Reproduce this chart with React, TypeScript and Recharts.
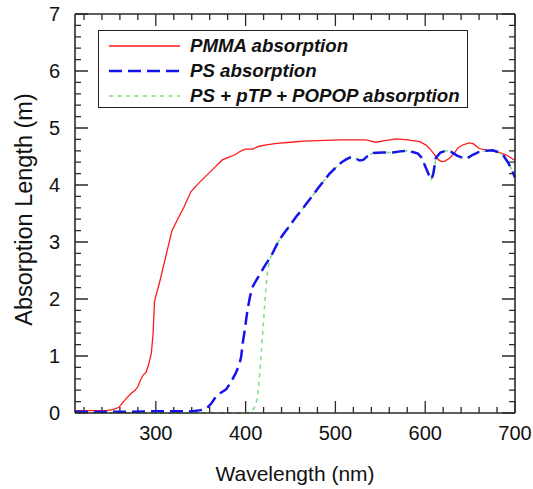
import { LineChart, Line, XAxis, YAxis } from "recharts";

// PMMA absorption length (m) vs wavelength (nm)
const pmmaWavelength = [
  210, 230, 245, 252, 259, 264, 268, 273, 277, 280, 283, 286, 289, 292, 295, 297, 298.5, 300, 304, 311,
  318, 325, 331, 339, 347, 356, 365, 374, 380, 388, 395, 400, 408, 415, 425, 435, 450, 465, 480, 505,
  534, 540, 545, 555, 568, 580, 594, 601, 606, 611, 615, 618, 622, 627, 632, 637, 643, 649, 654, 660,
  668, 675, 683, 690, 700,
];
const pmmaLength = [
  0.04, 0.04, 0.04, 0.06, 0.1, 0.2, 0.27, 0.35, 0.4, 0.46, 0.58, 0.67, 0.71, 0.85, 1.05, 1.4, 1.95, 2.05, 2.28, 2.74,
  3.2, 3.42, 3.6, 3.88, 4.02, 4.16, 4.3, 4.44, 4.48, 4.53, 4.6, 4.63, 4.63, 4.68, 4.71, 4.73, 4.75, 4.77, 4.78, 4.79,
  4.79, 4.77, 4.75, 4.78, 4.81, 4.79, 4.76, 4.7, 4.62, 4.52, 4.44, 4.41, 4.42, 4.47, 4.55, 4.66, 4.71, 4.74, 4.72, 4.64,
  4.61, 4.6, 4.57, 4.53, 4.43,
];

// PS absorption
const psWavelength = [
  210, 260, 300, 320, 341, 350, 357, 362, 367, 372, 378, 383, 389, 393, 395, 397, 399, 402, 405, 408,
  412, 416, 422, 428, 433, 438, 444, 449, 456, 462, 468, 475, 481, 487, 493, 500, 507, 512, 516, 522,
  527, 531, 536, 542, 552, 564, 572, 579, 586, 592, 596, 600, 604, 607, 609, 612, 617, 623, 629, 635,
  641, 647, 653, 660, 668, 675, 681, 687, 692, 696, 700,
];
const psLength = [
  0.02, 0.02, 0.03, 0.03, 0.03, 0.05, 0.09, 0.17, 0.29, 0.35, 0.41, 0.52, 0.7, 0.85, 0.98, 1.25, 1.45, 1.8, 2.05, 2.22,
  2.33, 2.44, 2.6, 2.74, 2.9, 3.05, 3.18, 3.28, 3.44, 3.55, 3.68, 3.82, 3.95, 4.07, 4.19, 4.3, 4.4, 4.45, 4.48, 4.47,
  4.43, 4.44, 4.51, 4.56, 4.57, 4.57, 4.59, 4.6, 4.58, 4.55, 4.48, 4.33, 4.18, 4.1, 4.2, 4.48, 4.57, 4.6, 4.58, 4.52,
  4.48, 4.47, 4.53, 4.58, 4.6, 4.61, 4.58, 4.52, 4.4, 4.28, 4.13,
];

// PS + pTP + POPOP absorption
const dopedWavelength = [
  210, 300, 400, 406, 410, 413, 415, 417, 419, 421, 423, 425, 428, 433, 438, 444, 449, 456, 462, 468,
  475, 481, 487, 493, 500, 507, 512, 516, 522, 527, 531, 536, 542, 552, 564, 572, 579, 586, 592, 596,
  600, 604, 607, 609, 612, 617, 623, 629, 635, 641, 647, 653, 660, 668, 675, 681, 687, 692, 696, 700,
];
const dopedLength = [
  0, 0, 0, 0.02, 0.1, 0.25, 0.55, 0.95, 1.4, 1.85, 2.27, 2.55, 2.74, 2.9, 3.05, 3.18, 3.28, 3.44, 3.55, 3.68,
  3.82, 3.95, 4.07, 4.19, 4.3, 4.4, 4.45, 4.48, 4.47, 4.43, 4.44, 4.51, 4.56, 4.57, 4.57, 4.59, 4.6, 4.58, 4.55, 4.48,
  4.33, 4.18, 4.1, 4.2, 4.48, 4.57, 4.6, 4.58, 4.52, 4.48, 4.47, 4.53, 4.58, 4.6, 4.61, 4.58, 4.52, 4.4, 4.28, 4.13,
];

const seriesNames = ["PMMA absorption", "PS absorption", "PS + pTP + POPOP absorption"];

const xMajorTicks = [300, 400, 500, 600, 700];
const xAllTicks = [
  220, 240, 260, 280, 300, 320, 340, 360, 380, 400, 420, 440, 460, 480, 500, 520, 540, 560, 580, 600,
  620, 640, 660, 680, 700,
];
const yMajorTicks = [0, 1, 2, 3, 4, 5, 6, 7];
const yAllTicks = [
  0, 0.2, 0.4, 0.6, 0.8, 1, 1.2, 1.4, 1.6, 1.8, 2, 2.2, 2.4, 2.6, 2.8, 3, 3.2, 3.4, 3.6, 3.8,
  4, 4.2, 4.4, 4.6, 4.8, 5, 5.2, 5.4, 5.6, 5.8, 6, 6.2, 6.4, 6.6, 6.8, 7,
];

const X_DOMAIN: [number, number] = [210, 700];
const Y_DOMAIN: [number, number] = [0, 7];

const toPoints = (xs: number[], ys: number[]) => xs.map((x, i) => ({ x, y: ys[i] }));
const pmmaData = toPoints(pmmaWavelength, pmmaLength);
const psData = toPoints(psWavelength, psLength);
const dopedData = toPoints(dopedWavelength, dopedLength);

// layout
const WIDTH = 533;
const HEIGHT = 489;
const MARGIN = { top: 13, right: 17, bottom: 6, left: 15 };
const Y_AXIS_W = 60;
const X_AXIS_H = 70;
const PLOT_W = WIDTH - MARGIN.left - MARGIN.right - Y_AXIS_W - 1;
const PLOT_H = HEIGHT - MARGIN.top - MARGIN.bottom - X_AXIS_H - 1;
const xUnitsPerPx = (X_DOMAIN[1] - X_DOMAIN[0]) / PLOT_W;
const yUnitsPerPx = (Y_DOMAIN[1] - Y_DOMAIN[0]) / PLOT_H;

const AXIS = "#2a2a2a";
const FONT = "'Liberation Sans', Arial, Helvetica, sans-serif";
const RED = "#ff1a1a";
const BLUE = "#1414ee";
const GREEN = "#7ddc7d";

const isMajorX = (v: number) => xMajorTicks.includes(v);
const isMajorY = (v: number) => yMajorTicks.some((m) => Math.abs(m - v) < 1e-6);

// inward tick marks on the frame, drawn as one broken line (null y = gap) through the chart's own scales
const frameTicks = [
  ...xAllTicks.flatMap((v) => {
    const len = (isMajorX(v) ? 12 : 6) * yUnitsPerPx;
    return [
      { x: v, y: Y_DOMAIN[0] },
      { x: v, y: Y_DOMAIN[0] + len },
      { x: v, y: null },
      { x: v, y: Y_DOMAIN[1] },
      { x: v, y: Y_DOMAIN[1] - len },
      { x: v, y: null },
    ];
  }),
  ...yAllTicks.flatMap((v) => {
    const len = (isMajorY(v) ? 13 : 6) * xUnitsPerPx;
    return [
      { x: X_DOMAIN[0], y: v },
      { x: X_DOMAIN[0] + len, y: v },
      { x: X_DOMAIN[0] + len, y: null },
      { x: X_DOMAIN[1], y: v },
      { x: X_DOMAIN[1] - len, y: v },
      { x: X_DOMAIN[1] - len, y: null },
    ];
  }),
];

function BottomLabel(props: any) {
  const v = props.payload.value;
  if (!isMajorX(v)) return <g />;
  return (
    <text x={props.x} y={Number(props.y) + 27} textAnchor="middle" fontSize={20} fontFamily={FONT} fill="#111">
      {v}
    </text>
  );
}

function LeftLabel(props: any) {
  const v = props.payload.value;
  if (!isMajorY(v)) return <g />;
  return (
    <text x={Number(props.x) - 15} y={props.y} dy="0.36em" textAnchor="end" fontSize={20} fontFamily={FONT} fill="#111">
      {Math.round(v)}
    </text>
  );
}

function XTitle({ viewBox }: any) {
  const { x, y, width } = viewBox;
  return (
    <text x={x + width / 2} y={y + 68} textAnchor="middle" fontSize={21} fontFamily={FONT} fill="#111">
      Wavelength (nm)
    </text>
  );
}

function YTitle({ viewBox }: any) {
  const { x, y, height } = viewBox;
  const cx = x + 17;
  const cy = y + height / 2 - 4;
  return (
    <text
      x={cx}
      y={cy}
      transform={`rotate(-90, ${cx}, ${cy})`}
      textAnchor="middle"
      fontSize={23.5}
      fontFamily={FONT}
      fill="#111"
    >
      Absorption Length (m)
    </text>
  );
}

function LegendBox() {
  const samples = [
    { color: RED, width: 1.3, dash: undefined },
    { color: BLUE, width: 2.5, dash: "13 6" },
    { color: GREEN, width: 1.5, dash: "4 4.5" },
  ];
  return (
    <div
      style={{
        position: "absolute",
        left: 98,
        top: 30,
        boxSizing: "border-box",
        width: 370,
        height: 78,
        border: "1.5px solid #222",
        background: "#fff",
        paddingTop: 2,
        fontFamily: FONT,
      }}
    >
      {seriesNames.map((name, i) => (
        <div key={name} style={{ display: "flex", alignItems: "center", height: 25 }}>
          <svg width={91} height={10} style={{ flex: "none" }}>
            <line
              x1={10}
              y1={5}
              x2={81}
              y2={5}
              stroke={samples[i].color}
              strokeWidth={samples[i].width}
              strokeDasharray={samples[i].dash}
            />
          </svg>
          <span style={{ fontSize: 18.7, fontWeight: "bold", fontStyle: "italic", color: "#111", whiteSpace: "nowrap" }}>
            {name}
          </span>
        </div>
      ))}
    </div>
  );
}

export default function App() {
  return (
    <div style={{ position: "absolute", left: 0, top: 0, width: WIDTH, height: HEIGHT }}>
      <LineChart width={WIDTH} height={HEIGHT} margin={MARGIN}>
        <XAxis
          xAxisId="bottom"
          dataKey="x"
          type="number"
          domain={X_DOMAIN}
          ticks={xAllTicks}
          interval={0}
          tickSize={0}
          tickMargin={0}
          tick={<BottomLabel />}
          axisLine={{ stroke: AXIS, strokeWidth: 1.6 }}
          tickLine={false}
          height={X_AXIS_H}
          label={<XTitle />}
        />
        <XAxis
          xAxisId="top"
          orientation="top"
          type="number"
          domain={X_DOMAIN}
          ticks={xAllTicks}
          tick={false}
          axisLine={{ stroke: AXIS, strokeWidth: 1.6 }}
          tickLine={false}
          height={1}
        />
        <YAxis
          yAxisId="left"
          type="number"
          domain={Y_DOMAIN}
          ticks={yAllTicks}
          interval={0}
          tickSize={0}
          tickMargin={0}
          tick={<LeftLabel />}
          axisLine={{ stroke: AXIS, strokeWidth: 1.6 }}
          tickLine={false}
          width={Y_AXIS_W}
          label={<YTitle />}
        />
        <YAxis
          yAxisId="right"
          orientation="right"
          type="number"
          domain={Y_DOMAIN}
          ticks={yAllTicks}
          tick={false}
          axisLine={{ stroke: AXIS, strokeWidth: 1.6 }}
          tickLine={false}
          width={1}
        />
        <Line
          xAxisId="bottom"
          yAxisId="left"
          data={frameTicks}
          dataKey="y"
          type="linear"
          stroke={AXIS}
          strokeWidth={1.3}
          dot={false}
          legendType="none"
          isAnimationActive={false}
        />
        <Line
          xAxisId="bottom"
          yAxisId="left"
          data={pmmaData}
          dataKey="y"
          type="linear"
          stroke={RED}
          strokeWidth={1.3}
          dot={false}
          isAnimationActive={false}
        />
        <Line
          xAxisId="bottom"
          yAxisId="left"
          data={dopedData}
          dataKey="y"
          type="linear"
          stroke={GREEN}
          strokeWidth={1.5}
          strokeDasharray="4 4.5"
          dot={false}
          isAnimationActive={false}
        />
        <Line
          xAxisId="bottom"
          yAxisId="left"
          data={psData}
          dataKey="y"
          type="linear"
          stroke={BLUE}
          strokeWidth={2.5}
          strokeDasharray="13 6"
          dot={false}
          isAnimationActive={false}
        />
      </LineChart>
      <LegendBox />
    </div>
  );
}
